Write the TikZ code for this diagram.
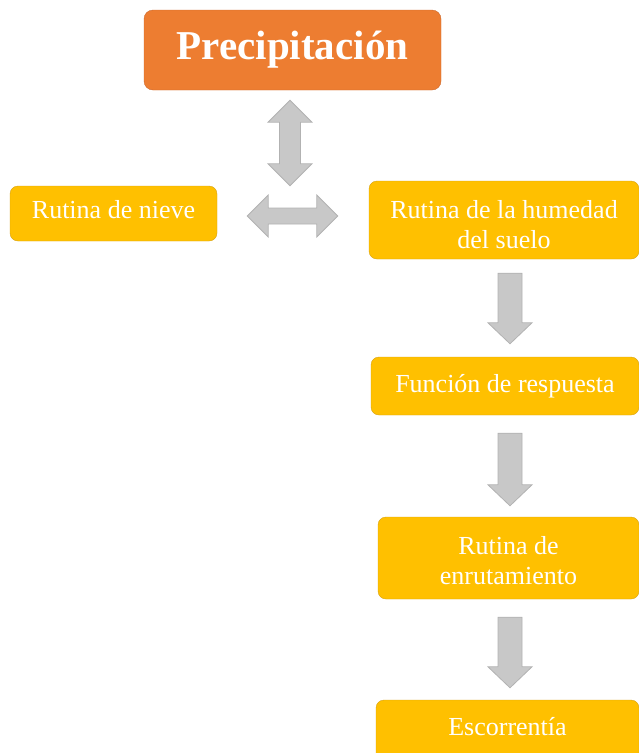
\documentclass[tikz,border=0pt]{standalone}
\usepackage{fontspec}
\setmainfont{Liberation Serif}
\usepackage{tikz}
\usetikzlibrary{calc}
\usetikzlibrary{positioning}
\definecolor{myorange}{RGB}{237,125,49}
\definecolor{myorangeline}{RGB}{205,105,45}
\definecolor{myyellow}{RGB}{255,192,0}
\definecolor{myyellowline}{RGB}{215,162,20}
\definecolor{mygray}{RGB}{200,200,200}
\definecolor{mygrayline}{RGB}{178,178,178}
\tikzset{
  mytitle/.style={
    draw=myorangeline,
    fill=myorange,
    shape=rectangle,
    rounded corners=9pt,
    align=center,
    text=white,
    inner sep=0pt,
    font=\fontsize{41}{44}\selectfont\bfseries
  },
  mybox/.style={
    draw=myyellowline,
    fill=myyellow,
    shape=rectangle,
    rounded corners=8pt,
    align=center,
    text=white,
    inner sep=0pt,
    font=\fontsize{26}{30}\selectfont
  },
  myblockarrow/.style={
    draw=mygrayline,
    fill=mygray,
    line width=0.8pt,
    line join=miter,
  },
}
% block arrow pointing down, #1 top of the shaft, #2 tip
\newcommand{\mydownarrow}[2]{%
  \path[myblockarrow] ($(#1)+(-12,0)$) -- ($(#1)+(12,0)$) -- ($(#2)+(12,-21)$) -- ($(#2)+(22,-21)$)
    -- (#2) -- ($(#2)+(-22,-21)$) -- ($(#2)+(-12,-21)$) -- cycle;}
% vertical double block arrow, #1 top tip, #2 bottom tip
\newcommand{\myvdarrow}[2]{%
  \path[myblockarrow] (#1) -- ($(#1)+(22,22)$) -- ($(#1)+(10.5,22)$) -- ($(#2)+(10.5,-22)$)
    -- ($(#2)+(22,-22)$) -- (#2) -- ($(#2)+(-22,-22)$) -- ($(#2)+(-10.5,-22)$)
    -- ($(#1)+(-10.5,22)$) -- ($(#1)+(-22,22)$) -- cycle;}
% horizontal double block arrow, #1 left tip, #2 right tip
\newcommand{\myhdarrow}[2]{%
  \path[myblockarrow] (#1) -- ($(#1)+(21,-21)$) -- ($(#1)+(21,-8)$) -- ($(#2)+(-21,-8)$)
    -- ($(#2)+(-21,-21)$) -- (#2) -- ($(#2)+(-21,21)$) -- ($(#2)+(-21,8)$)
    -- ($(#1)+(21,8)$) -- ($(#1)+(21,21)$) -- cycle;}

\begin{document}
\begin{tikzpicture}[x=1pt,y=-1pt]
    \useasboundingbox (0,0) rectangle (639,753);
    \clip (0,0) rectangle (639,753);

    \node[mytitle, minimum width=297pt, minimum height=80pt] (precip) at (292.5,50) {Precipitación};

    \node[mybox, minimum width=207pt, minimum height=55pt] (nieve) at (113.5,213.5) {Rutina de nieve\rule[-9pt]{0pt}{9pt}};
    \node[mybox, minimum width=270pt, minimum height=78pt] (humedad) at (504,220) {\rule{0pt}{28pt}Rutina de la humedad\\del suelo};

    \node[mybox, minimum width=268pt, minimum height=58pt] (respuesta) at (505,386) {Función de respuesta};
    \node[mybox, minimum width=261pt, minimum height=82pt] (enrut) at (508.5,558) {\rule{0pt}{24pt}Rutina de\\enrutamiento};
    \node[mybox, minimum width=263pt, minimum height=62pt] (escor) at (507.5,731) {Escorrentía\rule[-10pt]{0pt}{10pt}};

    % double arrows around the hub
    \coordinate (vtop) at ($(precip.south)+(-2.5,10)$);
    \coordinate (vbot) at (vtop |- nieve.north);
    \coordinate (hleft) at ($(nieve.east)+(30,2.5)$);
    \coordinate (hright) at ($(humedad.west)+(-31,-4)$);
    \myvdarrow{vtop}{vbot}
    \myhdarrow{hleft}{hright}

    % chain downwards
    \coordinate (a1) at ($(humedad.south)+(6,14)$);
    \coordinate (t1) at ($(a1 |- respuesta.north)+(0,-13)$);
    \coordinate (a2) at ($(respuesta.south)+(5,18)$);
    \coordinate (t2) at ($(a2 |- enrut.north)+(0,-11)$);
    \coordinate (a3) at ($(enrut.south)+(1.5,18)$);
    \coordinate (t3) at ($(a3 |- escor.north)+(0,-12)$);
    \mydownarrow{a1}{t1}
    \mydownarrow{a2}{t2}
    \mydownarrow{a3}{t3}
  \end{tikzpicture}
\end{document}
